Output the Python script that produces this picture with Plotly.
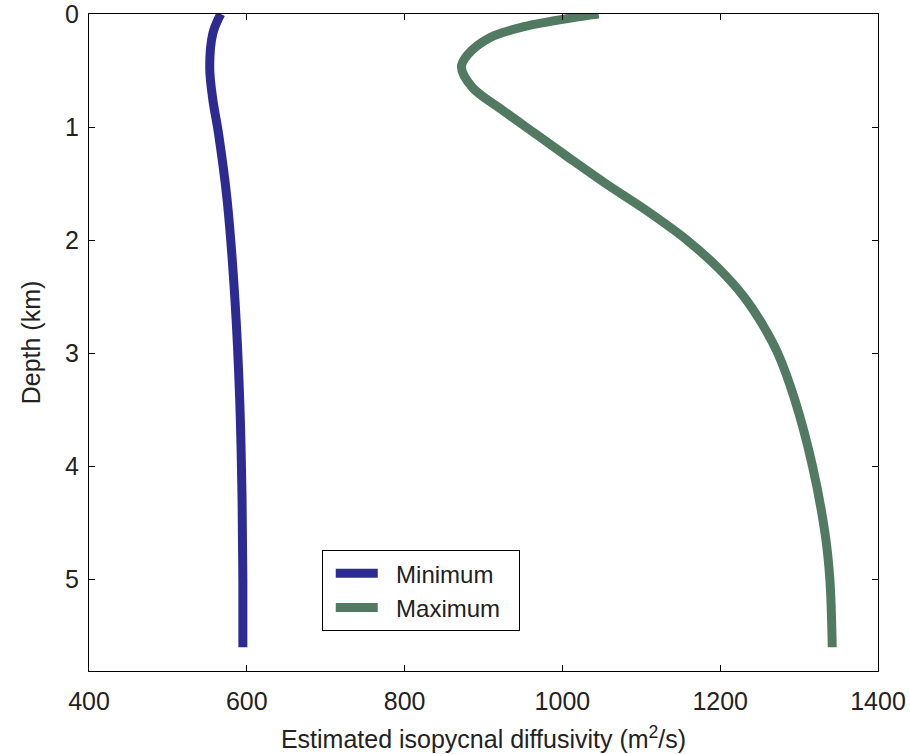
import plotly.graph_objects as go

depth_min = [0, 0.17, 0.47, 0.76, 1.05, 1.64, 2.53, 3.41, 4.3, 5.0, 5.6]
kappa_min = [567, 557, 553, 557, 564, 575, 585, 591, 594, 595, 595]

depth_max = [0, 0.02, 0.11, 0.21, 0.36, 0.47, 0.65, 0.85, 1.05, 1.26, 1.5, 1.73, 2.0, 2.25, 2.5,
             2.75, 3.0, 3.4, 4.0, 4.6, 5.0, 5.6]
kappa_max = [1046, 1025, 953, 908, 880, 872, 886, 924, 964, 1006, 1055, 1105, 1158, 1198, 1230,
             1254, 1273, 1294, 1317, 1333, 1339, 1342]

x_ticks = [400, 600, 800, 1000, 1200, 1400]
y_ticks = [0, 1, 2, 3, 4, 5]

fig = go.Figure()
fig.add_trace(go.Scatter(x=kappa_min, y=depth_min, mode="lines", name="\u00a0\u00a0Minimum",
                         line=dict(color="rgb(43,43,145)", width=9, shape="spline")))
fig.add_trace(go.Scatter(x=kappa_max, y=depth_max, mode="lines", name="\u00a0\u00a0Maximum\u00a0\u00a0",
                         line=dict(color="rgb(82,122,98)", width=9, shape="spline")))

axis_common = dict(showline=True, linecolor="black", linewidth=1, mirror="ticks",
                   ticks="inside", ticklen=6, tickcolor="black", showgrid=False, zeroline=False,
                   automargin=False, ticklabeloverflow="allow",
                   tickfont=dict(size=25, color="#222"))
fig.update_xaxes(range=[400, 1400], tickvals=x_ticks, ticklabelstandoff=8,
                 title=dict(text="Estimated isopycnal diffusivity (m<sup>2</sup>/s)",
                            font=dict(size=25, color="#222"), standoff=16), **axis_common)
fig.update_yaxes(range=[5.81, 0], tickvals=y_ticks, ticklabelstandoff=4,
                 title=dict(text="Depth (km)", font=dict(size=25, color="#222"), standoff=17),
                 **axis_common)

fig.update_layout(
    width=910, height=754,
    margin=dict(l=89, r=32, t=14, b=83),
    plot_bgcolor="white", paper_bgcolor="white",
    font=dict(family="Liberation Sans, Arial, sans-serif", size=25, color="#222"),
    legend=dict(x=0.295, y=0.184, xanchor="left", yanchor="top",
                bordercolor="black", borderwidth=1, bgcolor="white",
                font=dict(size=24, color="#222"), itemwidth=42, indentation=8,
                tracegroupgap=0),
)

fig.write_html("out.html", config={"displayModeBar": False},
               post_script="document.body.style.margin='0';document.body.style.overflow='hidden';")
